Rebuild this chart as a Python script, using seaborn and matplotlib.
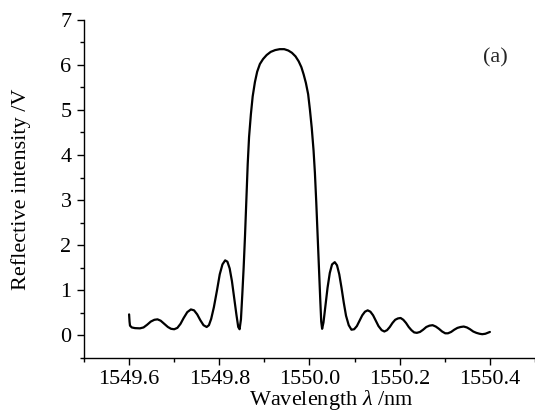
import matplotlib
matplotlib.use("Agg")
import matplotlib.pyplot as plt
from matplotlib.ticker import MultipleLocator
import seaborn as sns
import pandas as pd

wavelength_nm = [
    1549.600, 1549.601, 1549.602, 1549.606, 1549.613, 1549.624, 1549.632, 1549.640,
    1549.648, 1549.656, 1549.663, 1549.670, 1549.678, 1549.686, 1549.693, 1549.700,
    1549.707, 1549.714, 1549.721, 1549.729, 1549.737, 1549.744, 1549.751, 1549.758,
    1549.765, 1549.772, 1549.777, 1549.782, 1549.788, 1549.795, 1549.801, 1549.807,
    1549.813, 1549.818, 1549.823, 1549.828, 1549.833, 1549.838, 1549.842, 1549.845,
    1549.848, 1549.851, 1549.854, 1549.857, 1549.860, 1549.863, 1549.866, 1549.870,
    1549.874, 1549.879, 1549.884, 1549.890, 1549.897, 1549.905, 1549.914, 1549.924,
    1549.934, 1549.944, 1549.953, 1549.961, 1549.969, 1549.976, 1549.982, 1549.987,
    1549.992, 1549.997, 1550.001, 1550.005, 1550.009, 1550.012, 1550.015, 1550.018,
    1550.021, 1550.024, 1550.026, 1550.028, 1550.031, 1550.035, 1550.040, 1550.045,
    1550.050, 1550.056, 1550.061, 1550.066, 1550.071, 1550.076, 1550.081, 1550.087,
    1550.093, 1550.099, 1550.105, 1550.111, 1550.117, 1550.123, 1550.129, 1550.135,
    1550.141, 1550.147, 1550.153, 1550.160, 1550.166, 1550.172, 1550.178, 1550.184,
    1550.190, 1550.196, 1550.202, 1550.208, 1550.214, 1550.220, 1550.226, 1550.232,
    1550.238, 1550.245, 1550.252, 1550.259, 1550.266, 1550.273, 1550.280, 1550.287,
    1550.294, 1550.301, 1550.307, 1550.314, 1550.321, 1550.328, 1550.335, 1550.342,
    1550.349, 1550.356, 1550.363, 1550.370, 1550.377, 1550.383, 1550.390, 1550.395,
    1550.400,
]
intensity_v = [
    0.46, 0.30, 0.21, 0.17, 0.155, 0.15, 0.17, 0.23,
    0.30, 0.34, 0.35, 0.32, 0.25, 0.18, 0.14, 0.13,
    0.16, 0.25, 0.38, 0.51, 0.57, 0.55, 0.46, 0.33,
    0.22, 0.18, 0.22, 0.36, 0.62, 1.00, 1.35, 1.57,
    1.66, 1.63, 1.48, 1.20, 0.82, 0.45, 0.18, 0.13,
    0.35, 0.90, 1.50, 2.20, 3.00, 3.80, 4.40, 4.90,
    5.30, 5.62, 5.85, 6.02, 6.13, 6.22, 6.29, 6.33,
    6.35, 6.35, 6.32, 6.27, 6.19, 6.08, 5.95, 5.79,
    5.60, 5.35, 5.00, 4.60, 4.10, 3.60, 2.95, 2.20,
    1.45, 0.75, 0.30, 0.14, 0.28, 0.62, 1.05, 1.38,
    1.57, 1.62, 1.55, 1.35, 1.05, 0.72, 0.43, 0.22,
    0.12, 0.13, 0.20, 0.32, 0.44, 0.52, 0.55, 0.52,
    0.44, 0.32, 0.20, 0.11, 0.08, 0.11, 0.18, 0.27,
    0.34, 0.37, 0.38, 0.34, 0.27, 0.18, 0.11, 0.06,
    0.05, 0.07, 0.12, 0.18, 0.21, 0.22, 0.19, 0.14,
    0.08, 0.04, 0.04, 0.07, 0.12, 0.16, 0.18, 0.19,
    0.17, 0.13, 0.08, 0.05, 0.03, 0.02, 0.03, 0.05,
    0.07,
]
x_ticks = [1549.6, 1549.8, 1550.0, 1550.2, 1550.4]
x_tick_labels = ["1549.6", "1549.8", "1550.0", "1550.2", "1550.4"]
y_ticks = [0, 1, 2, 3, 4, 5, 6, 7]

df = pd.DataFrame({"wavelength": wavelength_nm, "intensity": intensity_v})

sns.set_theme(style="ticks")
plt.rcParams["font.family"] = ["Liberation Serif", "DejaVu Serif"]
plt.rcParams["mathtext.fontset"] = "custom"
plt.rcParams["mathtext.rm"] = "Liberation Serif"
plt.rcParams["mathtext.it"] = "Liberation Serif:italic"

fig = plt.figure(figsize=(5.35, 4.12), dpi=100)
ax = fig.add_axes([0.157, 0.132, 0.843, 0.8197])

sns.lineplot(data=df, x="wavelength", y="intensity", ax=ax, color="black",
             linewidth=1.6, sort=False, estimator=None)

ax.set_xlim(1549.5, 1550.5)
ax.set_ylim(-0.5, 7)
ax.set_xticks(x_ticks)
ax.set_xticklabels(x_tick_labels)
ax.set_yticks(y_ticks)
ax.xaxis.set_minor_locator(MultipleLocator(0.1))
ax.yaxis.set_minor_locator(MultipleLocator(0.5))

for s in ["top", "right"]:
    ax.spines[s].set_visible(False)
for s in ["left", "bottom"]:
    ax.spines[s].set_linewidth(1.0)
    ax.spines[s].set_color("black")

ax.tick_params(axis="both", which="major", direction="out", length=5, width=1,
               labelsize=16, colors="black", pad=4)
ax.tick_params(axis="both", which="minor", direction="out", length=3, width=1,
               colors="black")

ax.set_xlabel(r"Wavelength $\lambda$ /nm", fontsize=16, color="black")
ax.set_ylabel("Reflective intensity /V", fontsize=16, color="black")
ax.xaxis.set_label_coords(0.548, -0.09)
ax.yaxis.set_label_coords(-0.117, 0.5)

fig.text(495 / 535, 1 - 58 / 412, "(a)", fontsize=16, ha="center", va="center")

fig.savefig("out.png", dpi=100)
